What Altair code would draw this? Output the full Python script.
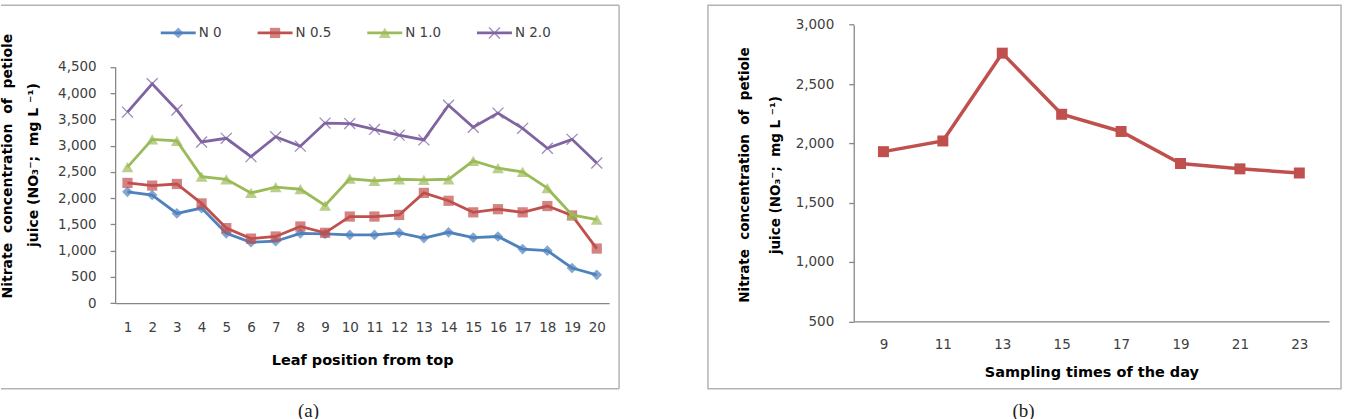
import altair as alt
import pandas as pd

# ---------------- data ----------------
# (a) nitrate in petiole juice by leaf position, four N treatments
leaf_positions = list(range(1, 21))
series_names = ["N 0", "N 0.5", "N 1.0", "N 2.0"]
n0_values = [2120, 2060, 1710, 1810, 1330, 1160, 1180, 1330, 1320, 1300,
             1300, 1340, 1240, 1350, 1250, 1270, 1030, 1000, 670, 540]
n05_values = [2290, 2240, 2270, 1900, 1430, 1230, 1270, 1460, 1340, 1650,
              1650, 1680, 2100, 1950, 1730, 1790, 1730, 1850, 1670, 1040]
n10_values = [2590, 3120, 3090, 2410, 2360, 2100, 2210, 2170, 1860, 2370,
              2330, 2360, 2350, 2360, 2710, 2570, 2500, 2190, 1680, 1590]
n20_values = [3640, 4180, 3680, 3070, 3140, 2790, 3170, 2990, 3430, 3420,
              3310, 3200, 3110, 3770, 3350, 3620, 3330, 2950, 3120, 2670]
series_values = [n0_values, n05_values, n10_values, n20_values]

# (b) nitrate in petiole juice by sampling time of the day
sampling_hours = [9, 11, 13, 15, 17, 19, 21, 23]
nitrate_by_hour = [1930, 2020, 2760, 2245, 2100, 1830, 1785, 1750]

# wide word spacing kept with no-break spaces (SVG collapses plain runs)
SP = " \u00a0"
y_title_lines = ["Nitrate" + SP + "concentration" + SP + "of" + SP + "petiole",
                 "juice (NO\u2083\u207b;" + SP + "mg L \u207b\u00b9)"]

# ---------------- styling ----------------
FONT = "DejaVu Sans"
SERIF = "Liberation Serif"
AXIS_GRAY = "#868686"
LABEL_GRAY = "#404040"
BORDER_GRAY = "#b4b4b4"
series_colors = ["#4F81BD", "#C0504D", "#9BBB59", "#8064A2"]
X_SHAPE = "M-1,-1L1,1M-1,1L1,-1"
series_markers = [
    dict(shape="diamond", filled=True, size=115),
    dict(shape="square", filled=True, size=105),
    dict(shape="triangle-up", filled=True, size=140),
    dict(shape=X_SHAPE, filled=False, size=120, strokeWidth=1.3, opacity=0.75),
]

A_W, A_H = 619, 384
B_W, B_H = 634, 384

one_row = pd.DataFrame({"k": [0]})


def text_layer(text, x, y, size, bold=False, angle=0, align="center",
               font=FONT, color="black"):
    return alt.Chart(pd.DataFrame({"label": [text]})).mark_text(
        font=font, fontSize=size, fontWeight="bold" if bold else "normal",
        angle=angle, align=align, baseline="middle", color=color,
    ).encode(x=alt.value(x), y=alt.value(y), text="label:N")


def text_width(s, size):
    # rough advance widths for DejaVu Sans
    widths = {" ": 0.318, ".": 0.318, "N": 0.748}
    return sum(widths.get(c, 0.636) for c in s) * size


# ---------------- panel (a) ----------------
a_x = alt.X(
    "leaf:Q",
    scale=alt.Scale(domain=[0.5, 20.5], range=[114.3, 609.0], nice=False, zero=False),
    axis=alt.Axis(values=leaf_positions, title="Leaf position from top",
                  offset=-(A_H - 298.3), ticks=False, tickSize=0, labelPadding=17,
                  labelFlush=False, labelOverlap=False,
                  titleFontSize=14.5, titleY=57, titleBaseline="middle"),
)
a_y = alt.Y(
    "nitrate:Q",
    scale=alt.Scale(domain=[0, 4500], range=[298.3, 61.7], nice=False, zero=False),
    axis=alt.Axis(values=list(range(0, 4501, 500)), format=",d", title=None,
                  offset=-114.3, tickSize=5, labelPadding=14),
)

a_layers = [
    # frame (left edge falls outside the page)
    alt.Chart(one_row).mark_rule(color=BORDER_GRAY, strokeWidth=1.5).encode(
        x=alt.value(0), x2=alt.value(A_W), y=alt.value(0)),
    alt.Chart(one_row).mark_rule(color=BORDER_GRAY, strokeWidth=1.5).encode(
        x=alt.value(0), x2=alt.value(A_W), y=alt.value(A_H)),
    alt.Chart(one_row).mark_rule(color=BORDER_GRAY, strokeWidth=1.5).encode(
        x=alt.value(A_W), y=alt.value(0), y2=alt.value(A_H)),
]

for name, vals, color, marker in zip(series_names, series_values, series_colors, series_markers):
    df = pd.DataFrame({"leaf": leaf_positions, "nitrate": vals, "series": name})
    a_layers.append(alt.Chart(df).mark_line(color=color, strokeWidth=2.8).encode(x=a_x, y=a_y))
    a_layers.append(alt.Chart(df).mark_point(color=color, **marker).encode(x=a_x, y=a_y))

# legend row across the top
legend_y = 27.7
lx = 160.0
for name, color, marker in zip(series_names, series_colors, series_markers):
    a_layers.append(alt.Chart(one_row).mark_rule(color=color, strokeWidth=2.8).encode(
        x=alt.value(lx), x2=alt.value(lx + 35), y=alt.value(legend_y)))
    a_layers.append(alt.Chart(one_row).mark_point(color=color, **marker).encode(
        x=alt.value(lx + 17.5), y=alt.value(legend_y)))
    a_layers.append(text_layer(name, lx + 38, legend_y, 13.5, align="left", color=LABEL_GRAY))
    lx += 35 + 3 + text_width(name, 13.5) + 36

a_layers += [
    text_layer(y_title_lines[0], 7.5, 161, 14, bold=True, angle=270),
    text_layer(y_title_lines[1], 33, 160, 14, bold=True, angle=270),
    text_layer("(a)", 308, 406, 19, font=SERIF, color="#222222"),
]

panel_a = alt.layer(*a_layers).properties(width=A_W, height=A_H)

# ---------------- panel (b) ----------------
b_x = alt.X(
    "hour:Q",
    scale=alt.Scale(domain=[8, 24], range=[146.0, 622.0], nice=False, zero=False),
    axis=alt.Axis(values=sampling_hours, title="Sampling times of the day",
                  offset=-(B_H - 316.5), ticks=False, tickSize=0, labelPadding=16,
                  labelFlush=False, labelOverlap=False,
                  titleFontSize=14.5, titleY=51.5, titleBaseline="middle"),
)
b_y = alt.Y(
    "nitrate:Q",
    scale=alt.Scale(domain=[500, 3000], range=[316.5, 19.4], nice=False, zero=False),
    axis=alt.Axis(values=list(range(500, 3001, 500)), format=",d", title=None,
                  offset=-146, tickSize=5, labelPadding=15),
)

df_b = pd.DataFrame({"hour": sampling_hours, "nitrate": nitrate_by_hour})

b_layers = [
    alt.Chart(one_row).mark_rect(fillOpacity=0, stroke=BORDER_GRAY, strokeWidth=1.5).encode(
        x=alt.value(0), x2=alt.value(B_W), y=alt.value(0), y2=alt.value(B_H)),
    alt.Chart(df_b).mark_line(color="#C0504D", strokeWidth=3.5).encode(x=b_x, y=b_y),
    alt.Chart(df_b).mark_point(color="#C0504D", shape="square", filled=True, size=121,
                               opacity=1).encode(x=b_x, y=b_y),
    text_layer(y_title_lines[0], 37.5, 170, 13.5, bold=True, angle=270),
    text_layer(y_title_lines[1], 68.5, 170, 13.5, bold=True, angle=270),
    text_layer("(b)", 316, 406, 19, font=SERIF, color="#222222"),
]

panel_b = alt.layer(*b_layers).properties(width=B_W, height=B_H)

chart = alt.hconcat(panel_a, panel_b, spacing=87).properties(
    padding={"left": 0, "top": 4, "right": 5, "bottom": 0},
    background="white",
).configure_view(stroke=None).configure_axis(
    grid=False,
    domainColor=AXIS_GRAY, domainWidth=1.3,
    tickColor=AXIS_GRAY, tickWidth=1.3,
    labelFont=FONT, labelFontSize=13.5, labelColor=LABEL_GRAY,
    titleFont=FONT, titleFontWeight="bold", titleColor="black",
)

chart.save("out.html", embed_options={"renderer": "svg", "actions": False})
